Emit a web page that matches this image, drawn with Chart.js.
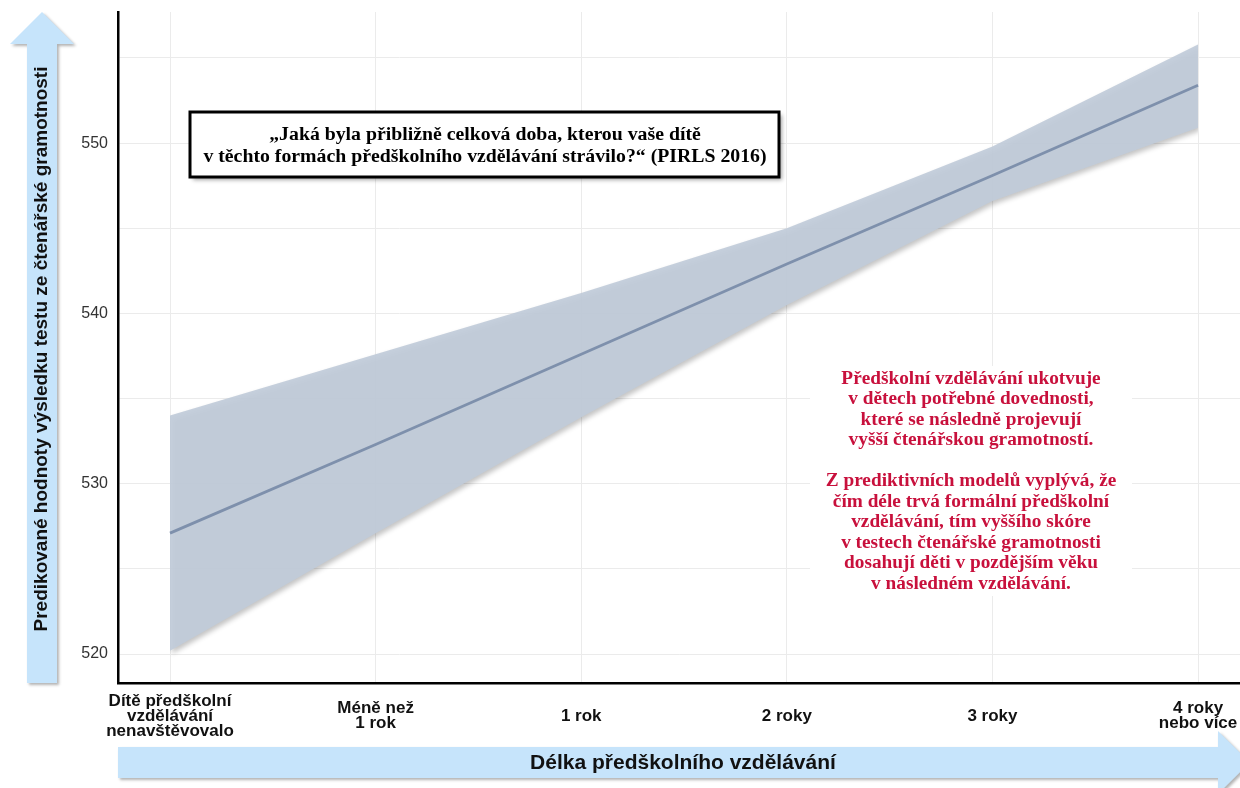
<!DOCTYPE html>
<html>
<head>
<meta charset="utf-8">
<script src="https://cdn.jsdelivr.net/npm/chart.js@4/dist/chart.umd.min.js"></script>
<style>
  html, body { margin: 0; padding: 0; background: #fff; }
  canvas { display: block; }
</style>
</head>
<body>
<canvas id="chart" width="1240" height="788"></canvas>
<script>
// Categories: length of preschool education
const categories = [
  ["Dítě předškolní", "vzdělávání", "nenavštěvovalo"],
  ["Méně než", "1 rok"],
  "1 rok",
  "2 roky",
  "3 roky",
  ["4 roky", "nebo více"]
];
// Predicted reading score and its confidence band
const predicted = [527.1, 532.3, 537.6, 542.9, 548.1, 553.4];
const upperCI   = [534.0, 537.6, 541.2, 545.0, 549.8, 555.8];
const lowerCI   = [520.2, 527.1, 533.9, 540.5, 546.6, 550.9];
// Y axis: grid every 5 points, labels every 10
const yGridValues = [520, 525, 530, 535, 540, 545, 550, 555];
const yTickLabels = [520, 530, 540, 550];

const yTitle = "Predikované hodnoty výsledku testu ze čtenářské gramotnosti";
const xTitle = "Délka předškolního vzdělávání";
const questionLines = [
  "„Jaká byla přibližně celková doba, kterou vaše dítě",
  "v těchto formách předškolního vzdělávání strávilo?“ (PIRLS 2016)"
];
const noteLines = [
  "Předškolní vzdělávání ukotvuje",
  "v dětech potřebné dovednosti,",
  "které se následně projevují",
  "vyšší čtenářskou gramotností.",
  "",
  "Z prediktivních modelů vyplývá, že",
  "čím déle trvá formální předškolní",
  "vzdělávání, tím vyššího skóre",
  "v testech čtenářské gramotnosti",
  "dosahují děti v pozdějším věku",
  "v následném vzdělávání."
];

const SANS = "'Liberation Sans', Arial, sans-serif";
const SERIF = "'Liberation Serif', 'Times New Roman', serif";
const ARROW_BLUE = "#c6e4fb";

const toPoints = arr => arr.map((v, i) => ({ x: i, y: v }));

// Soft drop shadow under the confidence band
const bandShadow = {
  id: 'bandShadow',
  beforeDatasetsDraw(chart) {
    const c = chart.ctx;
    c.save();
    c.shadowColor = 'rgba(0,0,0,0.25)';
    c.shadowBlur = 5;
    c.shadowOffsetX = 2;
    c.shadowOffsetY = 3;
  },
  afterDatasetDraw(chart, args) {
    if (args.index === 1) chart.ctx.restore();
  }
};

// Axis arrows with their titles, and the two text annotations
const decorations = {
  id: 'decorations',
  beforeDraw(chart) {
    const c = chart.ctx;
    c.save();
    c.fillStyle = '#fff';
    c.fillRect(0, 0, chart.width, chart.height);

    c.shadowColor = 'rgba(0,0,0,0.3)';
    c.shadowBlur = 3;
    c.shadowOffsetX = 2;
    c.shadowOffsetY = 2;
    c.fillStyle = ARROW_BLUE;

    // vertical arrow
    c.beginPath();
    c.moveTo(42, 12);
    c.lineTo(74, 44);
    c.lineTo(57, 44);
    c.lineTo(57, 683);
    c.lineTo(27, 683);
    c.lineTo(27, 44);
    c.lineTo(10, 44);
    c.closePath();
    c.fill();

    // horizontal arrow
    c.beginPath();
    c.moveTo(118, 747);
    c.lineTo(1218, 747);
    c.lineTo(1218, 731);
    c.lineTo(1250, 762.5);
    c.lineTo(1218, 794);
    c.lineTo(1218, 778);
    c.lineTo(118, 778);
    c.closePath();
    c.fill();
    c.restore();

    c.save();
    c.fillStyle = '#111';
    c.font = `bold 19px ${SANS}`;
    c.textAlign = 'center';
    c.textBaseline = 'middle';
    c.translate(42, 349);
    c.rotate(-Math.PI / 2);
    c.fillText(yTitle, 0, 0);
    c.restore();

    c.save();
    c.fillStyle = '#111';
    c.font = `bold 21px ${SANS}`;
    c.textAlign = 'center';
    c.textBaseline = 'middle';
    c.fillText(xTitle, 683, 763);
    c.restore();
  },
  afterDraw(chart) {
    const c = chart.ctx;
    // question box
    c.save();
    c.shadowColor = 'rgba(0,0,0,0.35)';
    c.shadowBlur = 4;
    c.shadowOffsetX = 3;
    c.shadowOffsetY = 3;
    c.fillStyle = '#fff';
    c.fillRect(190, 112, 589, 65);
    c.shadowColor = 'transparent';
    c.lineWidth = 3;
    c.strokeStyle = '#000';
    c.strokeRect(190, 112, 589, 65);
    c.fillStyle = '#000';
    c.font = `bold 19.8px ${SERIF}`;
    c.textAlign = 'center';
    c.textBaseline = 'middle';
    questionLines.forEach((t, i) => c.fillText(t, 485, 135 + i * 22));
    c.restore();

    // explanatory note
    c.save();
    c.fillStyle = '#fff';
    c.fillRect(810, 366, 322, 230);
    c.fillStyle = '#c8103c';
    c.font = `bold 19.3px ${SERIF}`;
    c.textAlign = 'center';
    c.textBaseline = 'middle';
    noteLines.forEach((t, i) => c.fillText(t, 971, 379 + i * 20.5));
    c.restore();
  }
};

new Chart(document.getElementById('chart'), {
  type: 'line',
  data: {
    datasets: [
      {
        label: 'Predikce',
        data: toPoints(predicted),
        borderColor: 'rgb(126,144,172)',
        borderWidth: 2.8,
        pointRadius: 0,
        fill: false,
        tension: 0
      },
      {
        label: 'Horní mez',
        data: toPoints(upperCI),
        borderColor: 'transparent',
        borderWidth: 0,
        pointRadius: 0,
        backgroundColor: 'rgba(193,203,217,0.93)',
        fill: '+1',
        tension: 0
      },
      {
        label: 'Dolní mez',
        data: toPoints(lowerCI),
        borderColor: 'transparent',
        borderWidth: 0,
        pointRadius: 0,
        fill: false,
        tension: 0
      }
    ]
  },
  options: {
    responsive: false,
    animation: false,
    devicePixelRatio: 1,
    layout: { padding: { top: 12, right: 0, bottom: 0, left: 0 } },
    plugins: {
      legend: { display: false },
      tooltip: { enabled: false }
    },
    scales: {
      x: {
        type: 'linear',
        min: -0.253,
        max: 5.204,
        afterBuildTicks: s => { s.ticks = categories.map((_, i) => ({ value: i })); },
        afterFit: s => { s.height = 105; s.paddingLeft = 0; s.paddingRight = 0; },
        ticks: {
          callback: v => categories[v],
          autoSkip: false,
          maxRotation: 0,
          minRotation: 0,
          crossAlign: 'center',
          padding: 18,
          color: '#111',
          font: { family: SANS, weight: 'bold', size: 17, lineHeight: '15px' }
        },
        grid: { color: '#ebebeb', lineWidth: 1, drawTicks: false },
        border: { color: '#000', width: 2.5 }
      },
      y: {
        min: 518.3,
        max: 557.7,
        afterBuildTicks: s => { s.ticks = yGridValues.map(v => ({ value: v })); },
        afterFit: s => { s.width = 118; s.paddingTop = 0; s.paddingBottom = 0; },
        ticks: {
          callback: v => (yTickLabels.includes(v) ? String(v) : ''),
          padding: 10,
          color: '#333',
          font: { family: SANS, size: 16 }
        },
        grid: { color: '#ebebeb', lineWidth: 1, drawTicks: false },
        border: { color: '#000', width: 2.5 }
      }
    }
  },
  plugins: [bandShadow, decorations]
});
</script>
</body>
</html>
